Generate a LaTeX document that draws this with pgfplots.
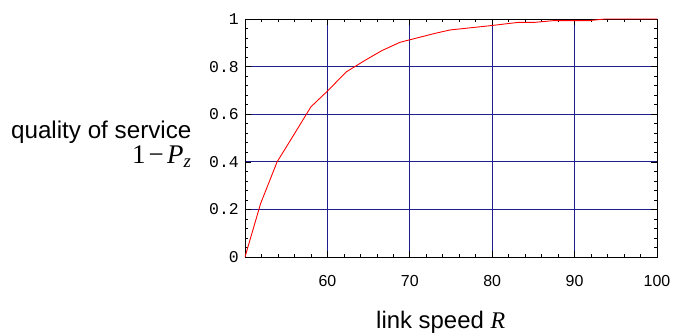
\documentclass[border=0pt]{standalone}
\usepackage{fontspec}
\setmainfont{Liberation Sans}
\newfontfamily\mono{Liberation Mono}
\newfontfamily\tnr{Liberation Serif}
\usepackage{pgfplots}
\pgfplotsset{compat=1.18}
\definecolor{gridblue}{RGB}{30,30,140}
\definecolor{curvered}{RGB}{255,0,0}
\begin{document}
\begin{tikzpicture}
\useasboundingbox (-245bp,-79bp) rectangle (430bp,257bp);
\begin{axis}[
  at={(0,0)}, anchor=south west,
  scale only axis, width=412bp, height=238bp,
  xmin=50, xmax=100, ymin=0, ymax=1,
  xtick={60,70,80,90},
  xticklabels={60,70,80,90},
  extra x ticks={50,100},
  extra x tick labels={,100},
  ytick={0.2,0.4,0.6,0.8},
  yticklabels={0.2,0.4,0.6,0.8},
  extra y ticks={0,1},
  extra y tick labels={0,1},
  extra tick style={grid=none},
  minor xtick={52,54,56,58,62,64,66,68,72,74,76,78,82,84,86,88,92,94,96,98},
  minor ytick={0.04,0.08,0.12,0.16,0.24,0.28,0.32,0.36,0.44,0.48,0.52,0.56,0.64,0.68,0.72,0.76,0.84,0.88,0.92,0.96},
  tick align=inside, tick pos=both,
  xticklabel pos=lower, yticklabel pos=left,
  major tick length=6bp, minor tick length=3bp,
  every tick/.style={black, line width=0.6bp},
  axis line style={black, line width=0.8bp},
  grid=major,
  major grid style={gridblue, line width=1bp},
  /pgf/number format/assume math mode=true,
  xticklabel style={font=\fontsize{16}{18}\selectfont, anchor=base, yshift=-29bp},
  yticklabel style={font=\mono\fontsize{16.5}{18}\selectfont, anchor=east, inner sep=0pt, xshift=-6bp},
  xlabel={link speed {\tnr\itshape R}},
  xlabel style={font=\fontsize{24}{28}\selectfont, at={(axis description cs:0.475,-0.302)}, anchor=base},
  ylabel={quality of service\\[-1bp] {\fontsize{27}{29}\selectfont\tnr 1\hspace{0.12em}−\hspace{0.12em}\textit{P}\textsubscript{\textit{z}}\hspace{0.1em}}},
  ylabel style={font=\fontsize{24.3}{26}\selectfont, rotate=-90, inner sep=0pt, at={(axis description cs:-0.1296,0.475)}, anchor=east, align=right},
]
\addplot[curvered, line width=0.9bp] coordinates {
(50,0) (51.9,0.225) (53.9,0.400) (55.9,0.512) (58.0,0.631) (60,0.697)
(62.3,0.778) (64.6,0.827) (66.6,0.867) (68.8,0.902) (73.1,0.940)
(74.9,0.954) (79.8,0.972) (83.2,0.986) (85.2,0.986) (87.4,0.993)
(91.7,0.993) (93.7,1.0) (100,1.0)
};
\end{axis}
\end{tikzpicture}
\end{document}
